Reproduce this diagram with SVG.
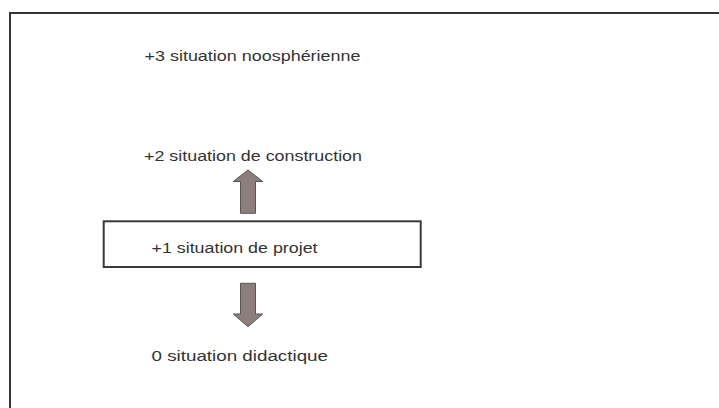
<svg xmlns="http://www.w3.org/2000/svg" width="719" height="408" viewBox="0 0 719 408">
<style>
  .lbl { font-family: "Liberation Sans", Arial, sans-serif; font-size: 15.5px; fill: #333333; }
  .arrow { fill: #8c7f7b; stroke: #555555; stroke-width: 1; stroke-linejoin: miter; }
  .frame { fill: none; stroke: #333333; stroke-width: 2; }
  .box { fill: #ffffff; stroke: #3a3a3a; stroke-width: 2; }
</style>
<rect x="0" y="0" width="719" height="408" fill="#ffffff"/>
<rect class="frame" x="10" y="13" width="730" height="420"/>
<g id="n3">
  <text class="lbl" x="144.5" y="60.5" textLength="216" lengthAdjust="spacingAndGlyphs">+3 situation noosphérienne</text>
</g>
<g id="n2">
  <text class="lbl" x="144" y="160.5" textLength="218" lengthAdjust="spacingAndGlyphs">+2 situation de construction</text>
</g>
<g id="n1">
  <rect class="box" x="103.7" y="221.3" width="317" height="45.7"/>
  <text class="lbl" x="151.5" y="253.3" textLength="166" lengthAdjust="spacingAndGlyphs">+1 situation de projet</text>
</g>
<g id="n0">
  <text class="lbl" x="151.5" y="360.5" textLength="176.5" lengthAdjust="spacingAndGlyphs">0 situation didactique</text>
</g>
<g id="connectors">
  <path class="arrow" d="M248,170 L262.7,181.5 L255.5,181.5 L255.5,213.3 L240.5,213.3 L240.5,181.5 L233.3,181.5 Z"/>
  <path class="arrow" d="M240.5,283.3 L255.5,283.3 L255.5,314 L262.7,314 L248,326.7 L233.3,314 L240.5,314 Z"/>
</g>
</svg>
